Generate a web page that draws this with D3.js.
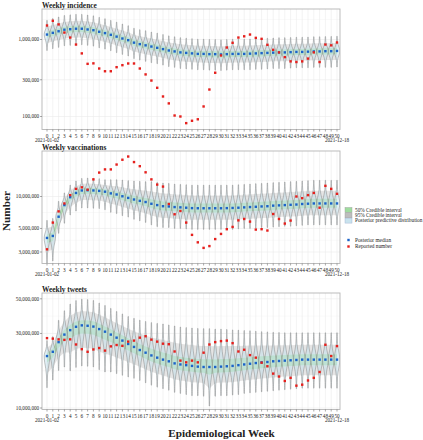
<!DOCTYPE html>
<html><head><meta charset="utf-8">
<script src="https://cdn.jsdelivr.net/npm/d3@7"></script>
<style>body{margin:0;background:#fff}svg{display:block}text{font-family:"Liberation Serif","Times New Roman",serif;fill:#222}</style>
</head><body><svg id="c" width="423" height="440"></svg>
<script>
// ---------- categories & labels ----------
const weeks = d3.range(0, 51).map(String);
const firstDate = "2021-01-02";
const lastDate = "2021-12-18";
const titles = ["Weekly incidence", "Weekly vaccinations", "Weekly tweets"];
const incTicks = [100000, 300000, 1000000];
const vacTicks = [3000000, 5000000, 10000000];
const twtTicks = [10000000, 30000000, 50000000];

// ---------- Weekly incidence (thousands) ----------
const incMedian = [1160,1220,1280,1340,1360,1380,1380,1350,1320,1260,1210,1150,1090,1030,980,910,870,840,810,780,750,720,700,680,670,660,650,650,645,645,640,645,650,650,650,655,660,665,670,675,680,680,685,690,690,695,700,700,705,705,710];
const incHi = [1770,1870,1960,2050,2090,2120,2120,2080,2030,1940,1860,1770,1680,1590,1510,1400,1340,1300,1250,1210,1160,1115,1085,1055,1040,1025,1010,1010,1000,1000,990,1000,1010,1010,1010,1015,1025,1030,1040,1045,1055,1055,1060,1070,1070,1075,1085,1085,1090,1095,1100];
const incLo = [720,760,790,830,840,855,855,840,820,780,750,715,675,640,610,565,540,520,500,485,465,445,435,420,415,410,405,405,400,400,395,400,405,405,405,405,410,410,415,420,420,420,425,430,430,430,435,435,435,435,440];
const incReported = [1520,1750,1570,1230,1060,860,660,483,490,420,387,387,437,464,488,488,420,352,293,236,182,148,103,100,82,88,92,135,224,370,620,787,906,1060,1100,1160,1050,1020,853,735,680,590,520,510,520,565,680,510,860,840,915];

// ---------- Weekly vaccinations (millions) ----------
const vacMedian = [4.07,4.25,6.45,8.3,9.85,10.8,11.4,11.45,11.4,11.3,11.1,10.7,10.45,10.05,9.7,9.37,9.1,8.87,8.54,8.3,8.1,8.06,7.95,7.9,7.84,7.77,7.75,7.75,7.75,7.75,7.75,7.77,7.8,7.84,7.9,7.95,8.0,8.06,8.1,8.2,8.25,8.3,8.35,8.4,8.5,8.55,8.6,8.6,8.6,8.6,8.6];
const vacHi = [5.95,6.2,9.0,10.8,12.8,14.0,14.8,14.9,14.8,14.7,14.4,14.4,14.4,14.3,14.1,14.0,13.9,13.8,13.8,13.6,13.4,13.3,13.1,13.0,12.9,12.8,12.8,12.8,12.8,12.8,12.8,12.8,12.8,12.9,13.0,13.1,13.2,13.3,13.4,13.5,13.6,13.7,13.8,13.9,14.0,14.1,14.2,14.2,14.2,14.2,14.2];
const vacLo = [2.36,2.47,4.5,5.6,6.7,7.3,7.8,7.8,7.75,7.7,7.5,7.1,6.9,6.6,6.4,6.1,5.9,5.7,5.4,5.2,5.1,5.1,5.0,5.0,4.95,4.9,4.9,4.9,4.9,4.9,4.9,4.9,4.9,4.95,5.0,5.0,5.05,5.1,5.1,5.15,5.2,5.25,5.25,5.3,5.35,5.4,5.4,5.4,5.4,5.4,5.4];
const vacReported = [3.18,5.68,7.24,8.6,10.3,11.8,12.2,11.6,14.5,16.8,18.0,18.0,20.0,22.2,23.8,21.1,19.3,16.9,14.5,12.95,12.4,8.5,6.8,7.3,5.68,4.35,3.7,3.28,3.41,3.97,4.44,4.92,5.17,5.96,6.14,5.8,4.88,4.92,4.78,6.84,6.14,5.56,5.93,10.0,9.64,10.3,10.8,7.84,12.6,11.8,10.6];

// ---------- Weekly tweets (millions) ----------
const twtMedian = [21.5,22.9,26.4,29.5,31.5,33.1,33.8,33.6,33.2,32.0,30.8,29.5,28.2,27.0,25.7,24.6,23.5,22.6,21.7,21.0,20.4,19.9,19.3,19.0,18.8,18.6,18.4,18.3,18.3,18.3,18.4,18.5,18.6,18.8,19.0,19.2,19.4,19.6,19.7,19.9,20.0,20.1,20.2,20.3,20.4,20.4,20.4,20.4,20.4,20.4,20.4];
const twtHi = [27,28.6,36.4,41.9,46.3,48.7,49.7,49.4,48.8,47.0,45.3,43.4,41.5,40.0,38.5,37.5,36.5,35.8,35.2,34.8,34.5,34.0,33.5,33.0,32.7,32.5,32.3,32.2,32.2,32.0,32.0,31.8,31.6,31.5,31.3,31.2,31.0,30.8,30.7,30.5,30.4,30.3,30.3,30.3,30.3,30.3,30.3,30.3,30.3,30.3,30.3];
const twtLo = [13.5,15.1,17.4,18.3,17.3,18.2,18.6,18.5,18.3,17.6,17.0,17.0,16.6,16.2,15.8,15.5,15.0,14.5,14.0,13.6,13.3,13.0,12.6,12.4,12.2,12.0,12.0,11.9,10.3,11.9,12.0,12.0,12.1,12.2,12.4,12.5,12.6,12.7,12.8,12.9,13.0,13.1,13.2,13.3,13.4,13.4,13.4,13.4,13.4,13.4,13.4];
const twtReported = [28.0,27.8,27.5,27.3,27.5,25.5,23.8,22.9,23.7,24.2,23.3,24.8,25.3,25.0,26.6,27.0,28.2,28.8,27.4,26.6,25.8,25.6,23.0,20.1,19.6,20.1,19.6,22.6,25.5,26.4,26.8,27.0,26.0,23.0,23.6,21.8,21.0,19.5,18.5,16.6,15.9,14.9,15.6,13.9,14.1,15.0,15.6,17.0,25.4,21.5,24.9];

const legendItems = ["50% Credible interval", "95% Credible interval", "Posterior predictive distribution"];
const legendPoints = ["Posterior median", "Reported number"];

// ---------- drawing ----------
const svg = d3.select("#c");
const L = 42, R = 340;
const x = d3.scalePoint().domain(weeks).range([47, 337]);
const fmt = d3.format(",");
const C = {fill:"#c9e3ee", stroke:"#858585", green:"#9fdc9f", gray:"#bdbdbd", blue:"#1c63c9", red:"#e5201d", grid:"#ebebeb", frame:"#b5b5b5"};

const panels = [
  {title:titles[0], unit:1e3, med:incMedian, hi:incHi, lo:incLo, rep:incReported, ticks:incTicks,
   top:9, bottom:129.5, anchor:[1e5,1e6], anchorY:[116.5,39.5]},
  {title:titles[1], unit:1e6, med:vacMedian, hi:vacHi, lo:vacLo, rep:vacReported, ticks:vacTicks,
   top:151, bottom:263.5, anchor:[3e6,1e7], anchorY:[252,196.5]},
  {title:titles[2], unit:1e6, med:twtMedian, hi:twtHi, lo:twtLo, rep:twtReported, ticks:twtTicks,
   top:293, bottom:409.5, anchor:[1e7,5e7], anchorY:[408,298.8]}
];

panels.forEach((p, pi) => {
  const y = d3.scaleLog().domain(p.anchor).range(p.anchorY);
  const g = svg.append("g");
  const cid = "clip" + pi;
  svg.append("clipPath").attr("id", cid).append("rect")
    .attr("x", L).attr("y", p.top).attr("width", R - L).attr("height", p.bottom - p.top);

  // grid
  const grid = g.append("g");
  const [d0, d1] = [y.invert(p.bottom), y.invert(p.top)];
  const n = p.ticks.length;
  const minor = [];
  for (let i = 0; i < n - 1; i++) minor.push(Math.sqrt(p.ticks[i] * p.ticks[i+1]));
  minor.push(Math.sqrt(p.ticks[0] * p.ticks[0] * p.ticks[0] / p.ticks[1]));
  minor.push(Math.sqrt(p.ticks[n-1] * p.ticks[n-1] * p.ticks[n-1] / p.ticks[n-2]));
  minor.filter(v => v > d0 && v < d1).forEach(v => {
    grid.append("line").attr("x1", L).attr("x2", R).attr("y1", y(v)).attr("y2", y(v))
      .attr("stroke", "#f3f3f3").attr("stroke-width", 0.5);
  });
  p.ticks.forEach(v => {
    grid.append("line").attr("x1", L).attr("x2", R).attr("y1", y(v)).attr("y2", y(v))
      .attr("stroke", C.grid).attr("stroke-width", 0.6);
  });
  weeks.forEach(w => {
    grid.append("line").attr("x1", x(w)).attr("x2", x(w)).attr("y1", p.top).attr("y2", p.bottom)
      .attr("stroke", C.grid).attr("stroke-width", 0.6);
  });

  const data = weeks.map((w, i) => {
    const m = Math.log10(p.med[i] * p.unit), h = Math.log10(p.hi[i] * p.unit), l = Math.log10(p.lo[i] * p.unit);
    return {w, m, h, l, med:p.med[i] * p.unit, rep:p.rep[i] * p.unit};
  });
  const pw = (d, f) => Math.pow(10, f >= 0 ? d.m + f * (d.h - d.m) : d.m + f * (d.m - d.l));

  const body = g.append("g").attr("clip-path", `url(#${cid})`);
  // 95% ribbon
  body.append("path").datum(data)
    .attr("d", d3.area().x(d => x(d.w)).y0(d => y(pw(d, -0.55))).y1(d => y(pw(d, 0.55))))
    .attr("fill", C.gray).attr("opacity", 0.4);
  // 50% ribbon
  body.append("path").datum(data)
    .attr("d", d3.area().x(d => x(d.w)).y0(d => y(pw(d, -0.2))).y1(d => y(pw(d, 0.2))))
    .attr("fill", C.green).attr("opacity", 0.75);

  // violins
  const prof = [[-1,0.2],[-0.8,0.3],[-0.6,0.55],[-0.4,1.25],[-0.2,2.3],[0,2.8],[0.2,2.3],[0.4,1.25],[0.6,0.55],[0.8,0.3],[1,0.2]];
  const line = d3.line().curve(d3.curveCatmullRom);
  data.forEach(d => {
    const cx = x(d.w);
    const right = prof.map(([f, wdt]) => [cx + wdt, y(pw(d, f))]);
    const left = prof.slice().reverse().map(([f, wdt]) => [cx - wdt, y(pw(d, f))]);
    body.append("path").attr("d", line(right) + "L" + line(left).slice(1) + "Z")
      .attr("fill", C.fill).attr("fill-opacity", 0.55)
      .attr("stroke", C.stroke).attr("stroke-width", 0.5);
  });
  // median points
  body.selectAll(".med").data(data).enter().append("rect")
    .attr("x", d => x(d.w) - 1.2).attr("y", d => y(d.med) - 1.2)
    .attr("width", 2.4).attr("height", 2.4).attr("fill", C.blue);
  // reported
  body.selectAll(".rep").data(data).enter().append("rect")
    .attr("x", d => x(d.w) - 1.2).attr("y", d => y(d.rep) - 1.2)
    .attr("width", 2.4).attr("height", 2.4).attr("fill", C.red);

  // frame
  g.append("rect").attr("x", L).attr("y", p.top).attr("width", R - L).attr("height", p.bottom - p.top)
    .attr("fill", "none").attr("stroke", C.frame).attr("stroke-width", 0.9);

  // y axis
  p.ticks.forEach(v => {
    g.append("line").attr("x1", L - 2).attr("x2", L).attr("y1", y(v)).attr("y2", y(v)).attr("stroke", "#555").attr("stroke-width", 0.5);
    g.append("text").attr("x", L - 2.8).attr("y", y(v)).attr("dy", "0.35em").attr("text-anchor", "end")
      .attr("font-size", 5.2).text(fmt(v));
  });
  // x axis
  weeks.forEach(w => {
    g.append("line").attr("x1", x(w)).attr("x2", x(w)).attr("y1", p.bottom).attr("y2", p.bottom + 2).attr("stroke", "#555").attr("stroke-width", 0.5);
    g.append("text").attr("x", x(w)).attr("y", p.bottom + 6.2).attr("dy", "0.35em").attr("text-anchor", "middle")
      .attr("font-size", 5.2).text(w);
  });
  g.append("text").attr("x", x(weeks[0])).attr("y", p.bottom + 11.1).attr("dy", "0.35em").attr("text-anchor", "middle")
    .attr("font-size", 5.2).text(firstDate);
  g.append("text").attr("x", x(weeks[weeks.length-1])).attr("y", p.bottom + 11.1).attr("dy", "0.35em").attr("text-anchor", "middle")
    .attr("font-size", 5.2).text(lastDate);
  // title
  g.append("text").attr("x", L).attr("y", p.top - 1.3).attr("font-size", 7.4).attr("font-weight", "bold").text(p.title);
});

// axis titles
svg.append("text").attr("transform", "translate(9.5,211) rotate(-90)").attr("text-anchor", "middle")
  .attr("font-size", 11.3).attr("font-weight", "bold").text("Number");
svg.append("text").attr("x", 221.5).attr("y", 437).attr("text-anchor", "middle")
  .attr("font-size", 11.2).attr("font-weight", "bold").text("Epidemiological Week");

// legend
const lg = svg.append("g");
const boxFills = [C.green, C.gray, C.fill];
legendItems.forEach((t, i) => {
  const cy = 210 + i * 5.3;
  lg.append("rect").attr("x", 345).attr("y", cy - 2.5).attr("width", 7).attr("height", 5)
    .attr("fill", boxFills[i]).attr("stroke", i === 2 ? "#9ac" : "#999").attr("stroke-width", 0.4);
  lg.append("text").attr("x", 355).attr("y", cy).attr("dy", "0.35em").attr("font-size", 5.3).text(t);
});
const ptCols = [C.blue, C.red];
legendPoints.forEach((t, i) => {
  const cy = 240 + i * 6.5;
  lg.append("rect").attr("x", 347.3).attr("y", cy - 1.2).attr("width", 2.4).attr("height", 2.4).attr("fill", ptCols[i]);
  lg.append("text").attr("x", 355).attr("y", cy).attr("dy", "0.35em").attr("font-size", 5.3).text(t);
});
</script></body></html>
